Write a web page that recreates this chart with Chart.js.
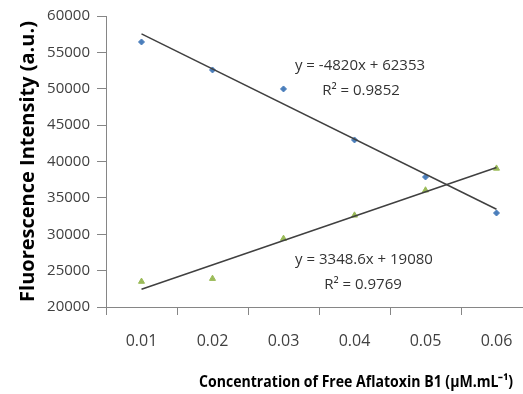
<!DOCTYPE html>
<html>
<head>
<meta charset="utf-8">
<script src="https://cdn.jsdelivr.net/npm/chart.js@4/dist/chart.umd.min.js"></script>
<style>
  html, body { margin: 0; padding: 0; background: #fff; overflow: hidden; }
  #wrap { width: 523px; height: 394px; overflow: hidden; }
</style>
</head>
<body>
<div id="wrap"><canvas id="fluoChart" width="540" height="394"></canvas></div>
<script>
const concentrations = ['0.01', '0.02', '0.03', '0.04', '0.05', '0.06'];
const seriesBlue = [56430, 52580, 49970, 42960, 37870, 32920];
const seriesGreen = [23500, 23900, 29400, 32600, 36050, 39050];
const yTicks = [20000, 25000, 30000, 35000, 40000, 45000, 50000, 55000, 60000];

// trendline equations as printed on the chart (x = category index 1..6)
const fitBlue = { slope: -4820, intercept: 62353, label: 'y = -4820x + 62353', r2: 'R² = 0.9852' };
const fitGreen = { slope: 3348.6, intercept: 19080, label: 'y = 3348.6x + 19080', r2: 'R² = 0.9769' };
const xTitle = 'Concentration of Free Aflatoxin B1 (µM.mL⁻¹)';

function trendEnds(fit) {
  const n = concentrations.length;
  return concentrations.map((c, i) =>
    (i === 0 || i === n - 1) ? fit.intercept + fit.slope * (i + 1) : null);
}

// equations + x axis title (the title sits off-centre in the original)
const textLayer = {
  id: 'textLayer',
  afterDatasetsDraw(chart) {
    const ctx = chart.ctx;
    ctx.save();
    ctx.font = '15px "Open Sans"';
    ctx.fillStyle = '#333';
    ctx.textAlign = 'center';
    ctx.textBaseline = 'middle';
    ctx.fillText(fitBlue.label, 360, 66);
    ctx.fillText(fitBlue.r2, 361, 91);
    ctx.fillText(fitGreen.label, 364, 260);
    ctx.fillText(fitGreen.r2, 363, 285);

    // narrow it a little, the original uses a condensed face
    ctx.font = 'bold 16px "Open Sans"';
    ctx.fillStyle = '#000';
    ctx.fillText(xTitle, 356, 382, 314);
    ctx.restore();
  }
};

const ctx = document.getElementById('fluoChart').getContext('2d');
new Chart(ctx, {
  type: 'line',
  data: {
    labels: concentrations,
    datasets: [
      {
        label: 'Trend 1',
        data: trendEnds(fitBlue),
        spanGaps: true,
        borderColor: '#404040',
        borderWidth: 1.5,
        pointRadius: 0
      },
      {
        label: 'Trend 2',
        data: trendEnds(fitGreen),
        spanGaps: true,
        borderColor: '#404040',
        borderWidth: 1.5,
        pointRadius: 0
      },
      {
        label: 'Series 1',
        data: seriesBlue,
        showLine: false,
        pointStyle: 'rectRot',
        pointRadius: 3,
        backgroundColor: '#4a7ebb',
        borderColor: '#4a7ebb'
      },
      {
        label: 'Series 2',
        data: seriesGreen,
        showLine: false,
        pointStyle: 'triangle',
        pointRadius: 3.5,
        backgroundColor: '#9bbb59',
        borderColor: '#9bbb59'
      }
    ]
  },
  options: {
    responsive: false,
    animation: false,
    layout: { padding: { top: 16, right: 8, left: 0, bottom: 0 } },
    plugins: {
      legend: { display: false },
      tooltip: { enabled: false }
    },
    scales: {
      x: {
        offset: true,
        grid: { offset: true, drawOnChartArea: false, tickLength: 8, color: '#868686' },
        border: { color: '#868686' },
        ticks: { color: '#404040', font: { family: 'Open Sans', size: 16 }, padding: 17, maxRotation: 0 },
        afterFit(scale) { scale.height = 87; }
      },
      y: {
        min: 20000,
        max: 60000,
        afterBuildTicks(scale) { scale.ticks = yTicks.map(v => ({ value: v })); },
        grid: { drawOnChartArea: false, tickLength: 9, color: '#868686' },
        border: { color: '#868686' },
        ticks: {
          color: '#404040',
          font: { family: 'Open Sans', size: 15 },
          padding: 7,
          callback: v => String(v)
        },
        title: {
          display: true,
          text: 'Fluorescence Intensity (a.u.)',
          color: '#000',
          font: { family: 'Open Sans', size: 20, weight: 'bold' },
          padding: { top: 16, bottom: 0 }
        },
        afterFit(scale) { scale.width = 106; }
      }
    }
  },
  plugins: [textLayer]
});
</script>
</body>
</html>
